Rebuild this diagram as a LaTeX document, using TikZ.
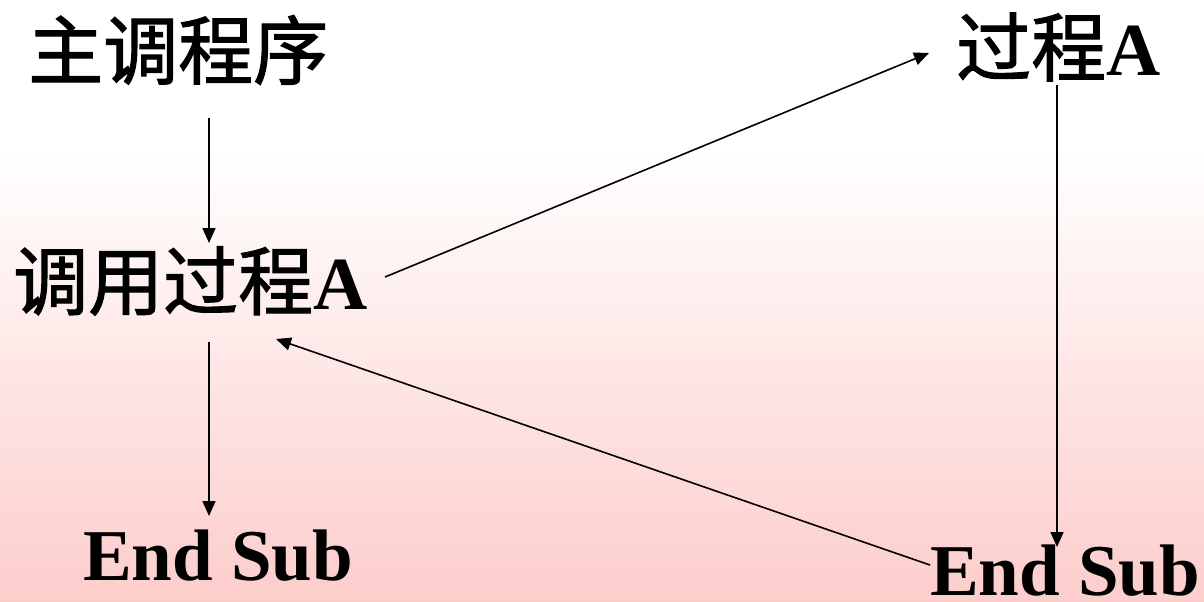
\documentclass[tikz,border=0pt]{standalone}
\usepackage{fontspec}
\setmainfont{Liberation Serif}
\newfontfamily\cjk[FakeBold=1.5]{Noto Sans CJK SC}
\usetikzlibrary{arrows.meta,calc}
\definecolor{bgpink}{RGB}{252,205,203}
\begin{document}
\begin{tikzpicture}[x=1pt,y=-1pt,
  arr/.style={-{Triangle[length=15pt,width=13pt]}, line width=1.6pt},
  cjklbl/.style={inner sep=0pt, font=\fontsize{75}{80}\selectfont\cjk},
  latlbl/.style={inner sep=0pt, text depth=0pt, font=\fontsize{73}{80}\selectfont\rmfamily\bfseries}]
\useasboundingbox (0,0) rectangle (1204,602);
\fill[white] (0,0) rectangle (1204,151);
\shade[top color=white, bottom color=bgpink] (0,150) rectangle (1204,602);
% labels
\node[cjklbl, anchor=west] (main) at (28,50) {主调程序};
\node[cjklbl, anchor=west] (call) at (13,281) {调用过程{\rmfamily\bfseries A}};
\node[cjklbl, anchor=west] (procA) at (956,47) {过程{\rmfamily\bfseries A}};
\node[latlbl, anchor=base west] (endL) at (83,580) {End Sub};
\node[latlbl, anchor=base west] (endR) at (930,595) {End Sub};
% connectors
\draw[arr] ($(main.west)+(181,68)$) -- ($(call.west)+(196,-38)$);
\draw[arr] ($(call.west)+(196,61)$) -- ($(endL.base west)+(126,-64)$);
\draw[arr] ($(call.west)+(372,-4)$) -- ($(procA.west)+(-27,6)$);
\draw[arr] ($(procA.west)+(101,38)$) -- ($(endR.base west)+(127,-48)$);
\draw[arr] ($(endR.base west)+(0,-30)$) -- ($(call.west)+(263,58)$);
\end{tikzpicture}
\end{document}
